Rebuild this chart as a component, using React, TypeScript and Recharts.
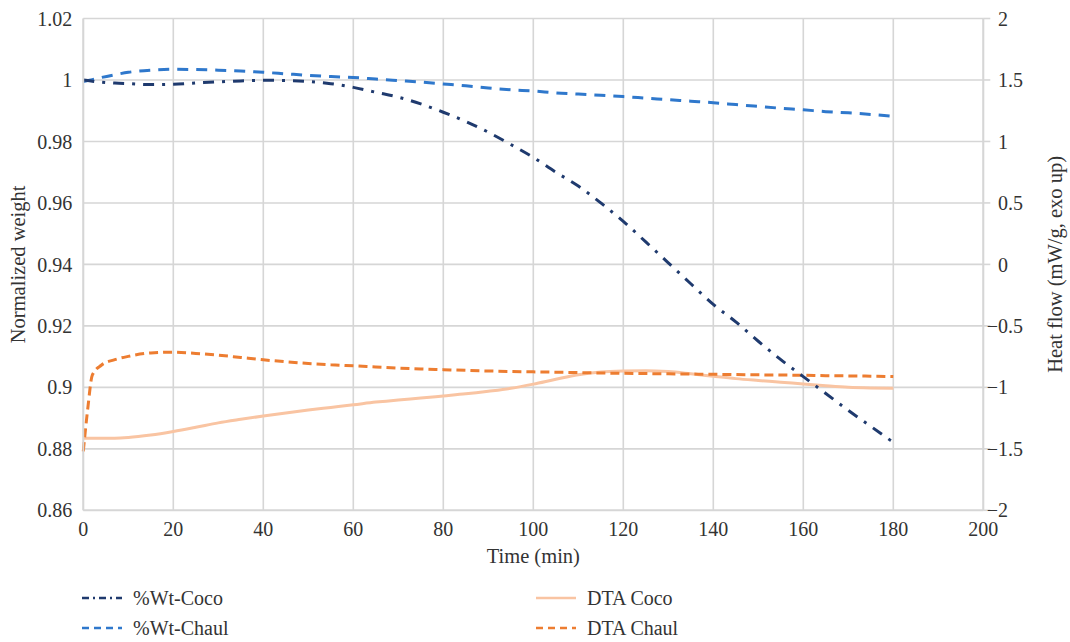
import React from 'react';
import { LineChart, Line, XAxis, YAxis, CartesianGrid, Legend } from 'recharts';

const times = [0, 1, 2, 4, 7, 10, 15, 20, 25, 30, 35, 40, 45, 50, 55, 60, 65, 70, 75, 80, 85, 90, 95, 100, 105, 110, 115, 120, 125, 130, 135, 140, 145, 150, 155, 160, 165, 170, 175, 180];

const wtCoco = [1.0, 0.9998, 0.9996, 0.9993, 0.999, 0.9988, 0.9985, 0.9986, 0.999, 0.9994, 0.9997, 0.9999, 0.9998, 0.9995, 0.9988, 0.9976, 0.996, 0.9944, 0.9922, 0.9895, 0.9865, 0.983, 0.979, 0.9748, 0.97, 0.9655, 0.96, 0.954, 0.9473, 0.9405, 0.9337, 0.927, 0.9213, 0.915, 0.909, 0.9035, 0.898, 0.8925, 0.8873, 0.8821];

const wtChaul = [0.9995, 0.9998, 1.0001, 1.0008, 1.0017, 1.0025, 1.0032, 1.0035, 1.0034, 1.0032, 1.0029, 1.0025, 1.002, 1.0015, 1.0011, 1.0008, 1.0003, 0.9998, 0.9993, 0.9987, 0.9981, 0.9974, 0.9968, 0.9964, 0.9958, 0.9954, 0.995, 0.9946, 0.9941, 0.9936, 0.9931, 0.9926, 0.992, 0.9914, 0.9908, 0.9903, 0.9897, 0.9893, 0.9888, 0.9882];

const dtaCoco = [-1.413, -1.413, -1.413, -1.413, -1.413, -1.408, -1.388, -1.359, -1.325, -1.289, -1.26, -1.233, -1.208, -1.184, -1.163, -1.142, -1.12, -1.102, -1.087, -1.07, -1.053, -1.032, -1.008, -0.974, -0.934, -0.897, -0.876, -0.867, -0.864, -0.872, -0.89, -0.91, -0.929, -0.944, -0.958, -0.973, -0.987, -0.999, -1.005, -1.008];

const dtaChaul = [-1.52, -1.17, -0.9, -0.82, -0.775, -0.748, -0.72, -0.714, -0.724, -0.738, -0.757, -0.776, -0.792, -0.806, -0.816, -0.825, -0.834, -0.843, -0.85, -0.856, -0.862, -0.867, -0.871, -0.874, -0.877, -0.88, -0.883, -0.886, -0.888, -0.89, -0.892, -0.894, -0.896, -0.898, -0.9, -0.902, -0.905, -0.907, -0.909, -0.912];

const xTicks = [0, 20, 40, 60, 80, 100, 120, 140, 160, 180, 200];
const leftTicks = [0.86, 0.88, 0.9, 0.92, 0.94, 0.96, 0.98, 1, 1.02];
const rightTicks = [-2, -1.5, -1, -0.5, 0, 0.5, 1, 1.5, 2];

const seriesNames = ['%Wt-Coco', '%Wt-Chaul', 'DTA Coco', 'DTA Chaul'];

const data = times.map((t, i) => ({
  t,
  wtCoco: wtCoco[i],
  wtChaul: wtChaul[i],
  dtaCoco: dtaCoco[i],
  dtaChaul: dtaChaul[i],
}));

const FONT = '"Liberation Serif", "Times New Roman", Tinos, serif';
const TEXT = '#333333';
const GRID = '#d6d6d6';

const C_NAVY = '#1f3a6e';
const C_BLUE = '#2f78cc';
const C_PEACH = '#f9c4a2';
const C_ORANGE = '#ed7d31';

const DASH_NAVY = '11 8 3 8';
const DASH_BLUE = '11 8';
const DASH_ORANGE = '9 5';

const RightTick = (props: any) => {
  const { x, y, payload } = props;
  const v = payload.value as number;
  const label = v < 0 ? '\u2212' + String(Math.abs(v)) : String(v);
  return (
    <text x={x} y={y} dy="0.355em" dx={v < 0 ? -11.3 : 0} textAnchor="start" fontFamily={FONT} fontSize={20} fill={TEXT}>
      {label}
    </text>
  );
};

const LeftLabel = (props: any) => {
  const vb = props.viewBox || {};
  const cx = (vb.x ?? 18) + 0;
  const cy = (vb.y ?? 0) + (vb.height ?? 0) / 2;
  return (
    <text x={cx} y={cy} transform={`rotate(-90 ${cx} ${cy})`} textAnchor="middle" dominantBaseline="central" fontFamily={FONT} fontSize={20.5} fill={TEXT}>
      Normalized weight
    </text>
  );
};

const RightLabel = (props: any) => {
  const vb = props.viewBox || {};
  const cx = (vb.x ?? 983) + (vb.width ?? 70) + 1.7;
  const cy = (vb.y ?? 0) + (vb.height ?? 0) / 2;
  return (
    <text x={cx} y={cy} transform={`rotate(-90 ${cx} ${cy})`} textAnchor="middle" dominantBaseline="central" fontFamily={FONT} fontSize={20.5} fill={TEXT}>
      Heat flow (mW/g, exo up)
    </text>
  );
};

const legendItems = [
  { name: seriesNames[0], color: C_NAVY, dash: '7 4 2 4', left: 82, top: 16 },
  { name: seriesNames[1], color: C_BLUE, dash: '7 5', left: 82, top: 46 },
  { name: seriesNames[2], color: C_PEACH, dash: undefined, left: 536, top: 16 },
  { name: seriesNames[3], color: C_ORANGE, dash: '7 5', left: 536, top: 46 },
];

const renderLegend = () => (
  <div style={{ position: 'relative', width: 1070, height: 60 }}>
    {legendItems.map((it) => (
      <div key={it.name} style={{ position: 'absolute', left: it.left, top: it.top - 12, height: 24, display: 'flex', alignItems: 'center' }}>
        <svg width={40} height={6} style={{ display: 'block' }}>
          <line x1={0} y1={3} x2={40} y2={3} stroke={it.color} strokeWidth={2.5} strokeDasharray={it.dash} />
        </svg>
        <span style={{ marginLeft: 11, fontFamily: FONT, fontSize: 20, color: TEXT, lineHeight: '24px', whiteSpace: 'nowrap' }}>{it.name}</span>
      </div>
    ))}
  </div>
);

export default function App() {
  return (
    <div style={{ position: 'absolute', left: 0, top: 0, width: 1070, height: 642, background: '#ffffff', fontFamily: FONT }}>
      <LineChart
        width={1070}
        height={642}
        data={data}
        margin={{ top: 18.5, right: 16.7, left: 18.3, bottom: 0 }}
        style={{ fontFamily: FONT }}
      >
        <CartesianGrid yAxisId="left" stroke={GRID} strokeWidth={1.6} />
        <XAxis
          dataKey="t"
          type="number"
          domain={[0, 200]}
          ticks={xTicks}
          height={71.7}
          tickLine={false}
          tickSize={0}
          tickMargin={11.5}
          axisLine={{ stroke: GRID, strokeWidth: 1.8 }}
          tick={{ fontFamily: FONT, fontSize: 20, fill: TEXT }}
          label={{ value: 'Time (min)', position: 'insideBottom', offset: 19, fontFamily: FONT, fontSize: 20.5, fill: TEXT }}
        />
        <YAxis
          yAxisId="left"
          orientation="left"
          type="number"
          domain={[0.86, 1.02]}
          ticks={leftTicks}
          width={65}
          tickLine={false}
          tickSize={0}
          tickMargin={11}
          axisLine={{ stroke: GRID, strokeWidth: 1.8 }}
          tick={{ fontFamily: FONT, fontSize: 20, fill: TEXT }}
          label={<LeftLabel />}
        />
        <YAxis
          yAxisId="right"
          orientation="right"
          type="number"
          domain={[-2, 2]}
          ticks={rightTicks}
          width={70}
          tickLine={{ stroke: GRID, strokeWidth: 1.6 }}
          tickSize={7}
          tickMargin={7.7}
          axisLine={{ stroke: GRID, strokeWidth: 1.8 }}
          tick={<RightTick />}
          label={<RightLabel />}
        />
        <Legend verticalAlign="bottom" content={renderLegend} wrapperStyle={{ left: 0, bottom: 0, width: 1070, height: 60 }} />
        <Line yAxisId="right" type="monotone" dataKey="dtaCoco" name={seriesNames[2]} stroke={C_PEACH} strokeWidth={3} dot={false} activeDot={false} isAnimationActive={false} />
        <Line yAxisId="right" type="monotone" dataKey="dtaChaul" name={seriesNames[3]} stroke={C_ORANGE} strokeWidth={3} strokeDasharray={DASH_ORANGE} dot={false} activeDot={false} isAnimationActive={false} />
        <Line yAxisId="left" type="monotone" dataKey="wtChaul" name={seriesNames[1]} stroke={C_BLUE} strokeWidth={3} strokeDasharray={DASH_BLUE} dot={false} activeDot={false} isAnimationActive={false} />
        <Line yAxisId="left" type="monotone" dataKey="wtCoco" name={seriesNames[0]} stroke={C_NAVY} strokeWidth={3} strokeDasharray={DASH_NAVY} dot={false} activeDot={false} isAnimationActive={false} />
      </LineChart>
    </div>
  );
}
